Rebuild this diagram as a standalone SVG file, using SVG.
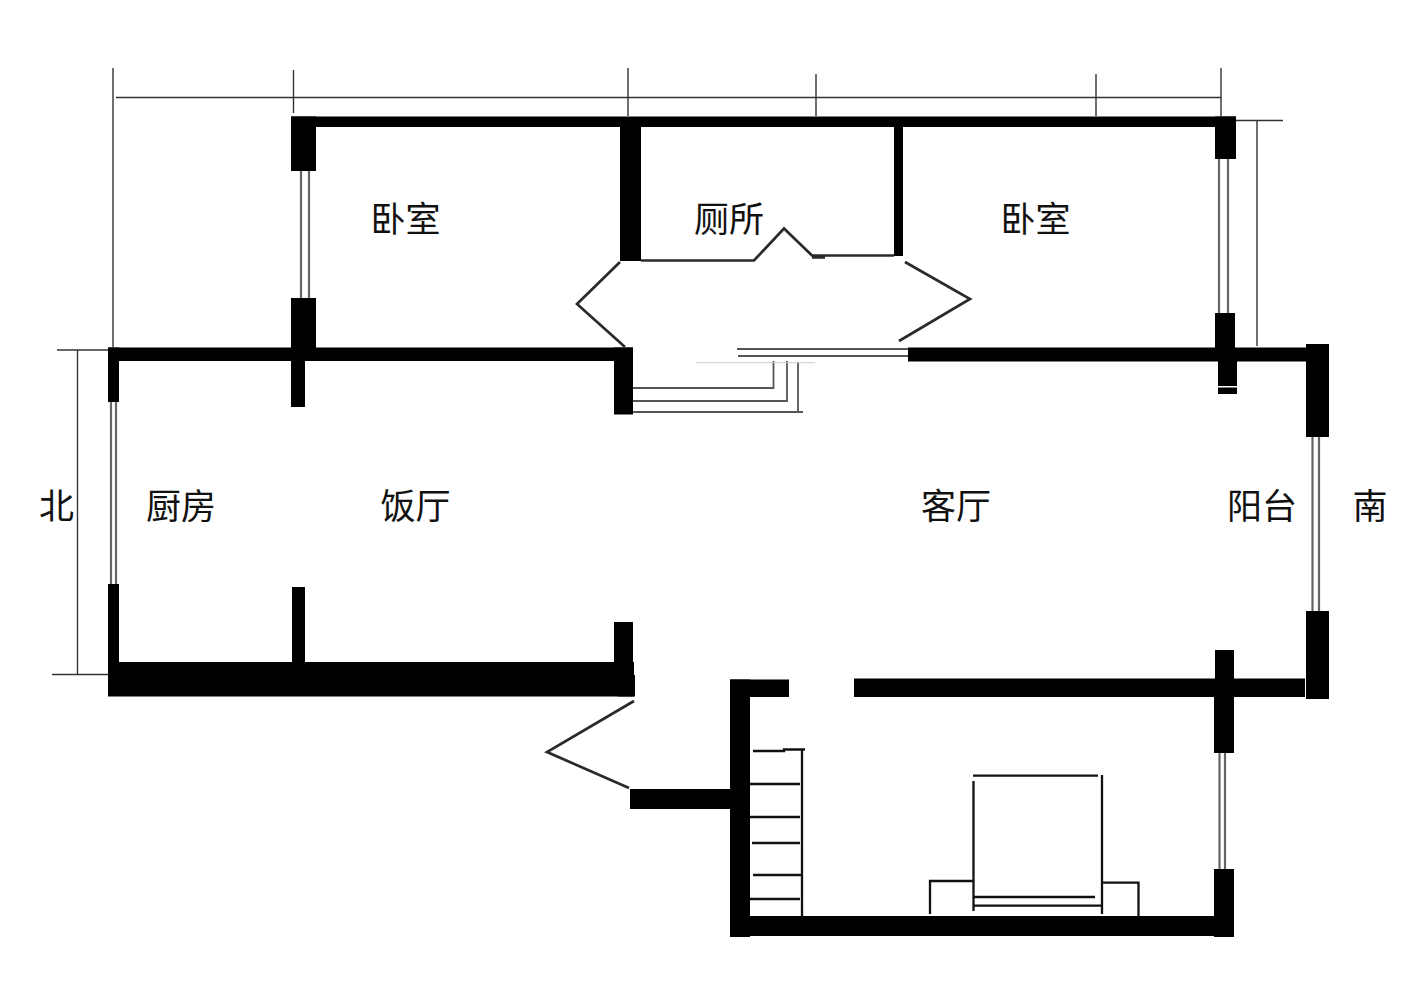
<svg xmlns="http://www.w3.org/2000/svg" width="1417" height="992" viewBox="0 0 1417 992">
<style>
.w{fill:#000}
.dim{stroke:#333;stroke-width:1.4;fill:none}
.win{stroke:#666;stroke-width:2.2;fill:none}
.thin{stroke:#111;stroke-width:2.3;fill:none}
.door{stroke:#2a2a2a;stroke-width:2.7;fill:none}
.gray{stroke:#555;stroke-width:1.8;fill:none}
text{font-family:"Noto Sans CJK SC","Liberation Sans",sans-serif;font-size:35px;fill:#111;text-anchor:middle}
</style>
<rect width="1417" height="992" fill="#fff"/>
<g id="dimensions">
<path class="dim" d="M113 68V347M116 97.500H1221M293.500 70V113M628 68V116M816 74V116M1096 74V116M1221 68V116M57 350H108M77.500 350V674M52 674.500H108M1236 120.500H1283M1257 121V346"/>
</g>
<g id="walls">
<rect class="w" x="291" y="116.500" width="945" height="10.500"/>
<rect class="w" x="291" y="116.500" width="25" height="54.500"/>
<rect class="w" x="291" y="298" width="25" height="50"/>
<rect class="w" x="108" y="347.500" width="525" height="13.500"/>
<rect class="w" x="108" y="347.500" width="11" height="54.500"/>
<rect class="w" x="291" y="360" width="14" height="47"/>
<rect class="w" x="620" y="127" width="21" height="134"/>
<rect class="w" x="894" y="127" width="9" height="129"/>
<rect class="w" x="614" y="347.500" width="19" height="67"/>
<rect class="w" x="908" y="347.500" width="398" height="14"/>
<rect class="w" x="1215" y="116.500" width="21" height="42.500"/>
<rect class="w" x="1215" y="313" width="20" height="35"/>
<rect class="w" x="1218" y="361" width="19" height="25"/>
<rect class="w" x="1218" y="387.500" width="19" height="6.500"/>
<rect class="w" x="1306" y="344" width="23" height="93"/>
<rect class="w" x="1306" y="611" width="23" height="88"/>
<rect class="w" x="108" y="584" width="11" height="112"/>
<rect class="w" x="292" y="587" width="13" height="76"/>
<rect class="w" x="108" y="662" width="526" height="34.500"/>
<rect class="w" x="614" y="622" width="19" height="45"/>
<rect class="w" x="618" y="675" width="17" height="21.500"/>
<rect class="w" x="630" y="789" width="102" height="20"/>
<rect class="w" x="730" y="679.500" width="20" height="257.500"/>
<rect class="w" x="730" y="679.500" width="59" height="17.500"/>
<rect class="w" x="854" y="678.500" width="451" height="18.500"/>
<rect class="w" x="1215" y="650" width="19" height="30"/>
<rect class="w" x="1214" y="696" width="20" height="57"/>
<rect class="w" x="1214" y="869" width="20" height="68"/>
<rect class="w" x="730" y="916" width="504" height="20"/>
</g>
<g id="windows">
<path class="win" d="M301 171V298M309 171V298M111 402V584M116 402V584M1219 159V313M1228 159V313M1312.500 437V611M1319 437V611M1219.500 753V869M1225 753V869"/>
</g>
<g id="doors">
<path class="door" d="M641 260.500H754L784 228.500L812 255.500H894M812 257.500H825M620 262L577 304L625 347M905 262L970 299L899 341M634 701L547 752L629 788"/>
<path class="gray" d="M737 349H908M738 356H908M633 388H773.500V361M633 401H787V361M633 412H803M798 362V412"/>
<path d="M696 362.700H815" stroke="#ccc" stroke-width="1" fill="none"/>
</g>
<g id="stairs">
<path class="thin" d="M802 750V916M753 751H784V749.500H805M750 784H800M750 817H800M752 843H800M753 875H802M750 899H800"/>
</g>
<g id="bed">
<path class="thin" d="M973 775.700H1098M973.500 781V911M1102 775V914M974 897H1095M974 905.700H1102M930 914V881H973M1102 882.700H1138.500V916"/>
</g>
<g id="labels">
<text x="405.500" y="232">卧室</text>
<text x="729" y="232">厕所</text>
<text x="1035.500" y="232">卧室</text>
<text x="181" y="519">厨房</text>
<text x="415.500" y="519">饭厅</text>
<text x="956" y="519">客厅</text>
<text x="1262" y="519">阳台</text>
<text x="56.500" y="519">北</text>
<text x="1370" y="519">南</text>
</g>
</svg>
